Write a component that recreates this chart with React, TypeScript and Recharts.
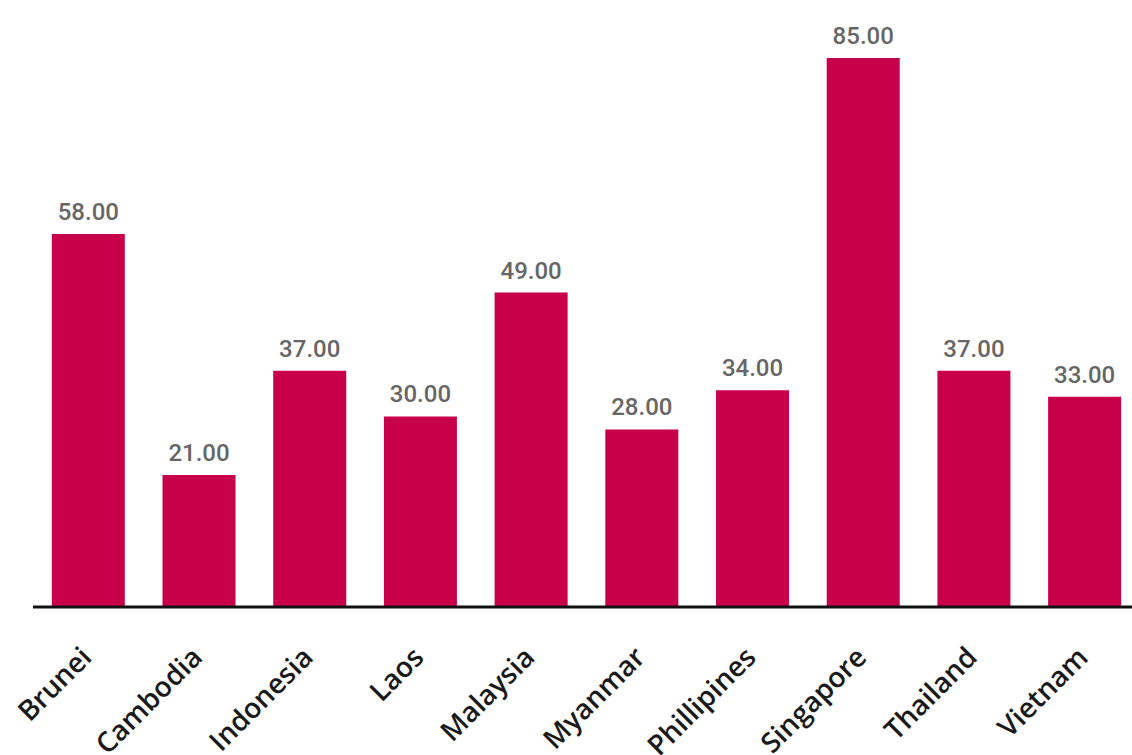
import React from "react";
import { BarChart, Bar, XAxis, YAxis, LabelList } from "recharts";

const countries = ["Brunei", "Cambodia", "Indonesia", "Laos", "Malaysia", "Myanmar", "Phillipines", "Singapore", "Thailand", "Vietnam"];
const values = [58, 21, 37, 30, 49, 28, 34, 85, 37, 33];
const yDomain = [0.75, 85];

const data = countries.map((c, i) => ({ name: c, value: values[i] }));

const Tick = (props: any) => {
  const { x, y, payload } = props;
  return (
    <g transform={`translate(${x + 5},${y + 44}) rotate(-45)`}>
      <text
        x={0}
        y={0}
        textAnchor="end"
        fill="#1a1a1a"
        fontFamily="'Open Sans', sans-serif"
        fontWeight={600}
        fontSize={28}
      >
        {payload.value}
      </text>
    </g>
  );
};

export default function App() {
  return (
    <div style={{ position: "fixed", left: 0, top: 0, width: 1132, height: 755, overflow: "hidden", background: "#fff" }}>
      <BarChart
        width={1140}
        height={755}
        data={data}
        margin={{ top: 58, right: 0, left: 33, bottom: 0 }}
        barCategoryGap="17%"
      >
        <YAxis hide domain={yDomain} allowDataOverflow />
        <XAxis
          dataKey="name"
          height={148}
          interval={0}
          tickLine={false}
          axisLine={{ stroke: "#111", strokeWidth: 3 }}
          tick={<Tick />}
        />
        <Bar dataKey="value" fill="#C8004A" isAnimationActive={false}>
          <LabelList
            dataKey="value"
            position="top"
            offset={14}
            formatter={(v: any) => Number(v).toFixed(2)}
            fill="#666"
            fontSize={24}
            fontWeight={500}
            fontFamily="Roboto, sans-serif"
          />
        </Bar>
      </BarChart>
    </div>
  );
}
